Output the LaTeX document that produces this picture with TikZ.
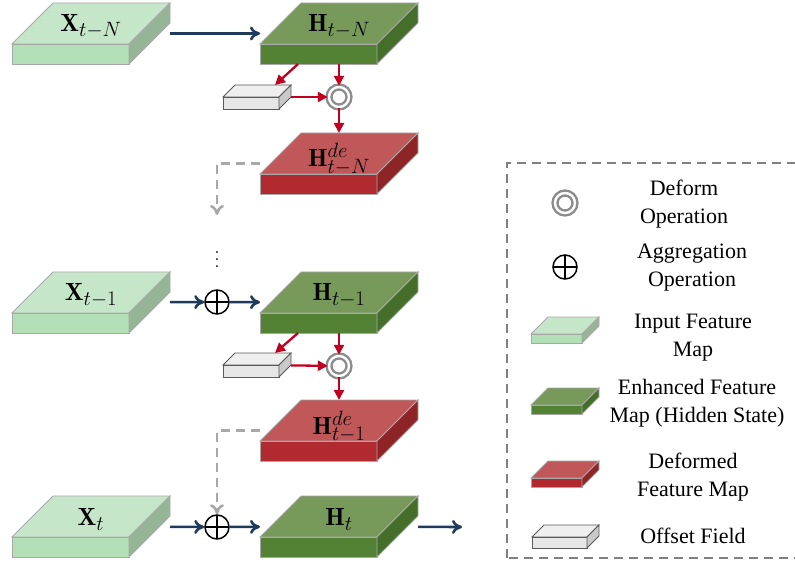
\documentclass[tikz,border=0pt]{standalone}
\usepackage{fontspec}
\newfontfamily\legfont{Liberation Serif}
\usetikzlibrary{arrows.meta}

\definecolor{navy}{HTML}{1F3B5C}
\definecolor{redarr}{HTML}{C00020}
\definecolor{dashgray}{HTML}{A8A8A8}
\definecolor{boxgray}{HTML}{808080}
\definecolor{defgray}{HTML}{8C8C8C}
% input feature map
\definecolor{inptop}{HTML}{C6E6C9}
\definecolor{inpfront}{HTML}{B2DFB5}
\definecolor{inpside}{HTML}{96B596}
\definecolor{inpline}{HTML}{A8A8A8}
% enhanced feature map
\definecolor{enhtop}{HTML}{779A5B}
\definecolor{enhfront}{HTML}{548235}
\definecolor{enhside}{HTML}{446E2A}
\definecolor{enhline}{HTML}{A8A8A8}
% deformed feature map
\definecolor{dfmtop}{HTML}{C05759}
\definecolor{dfmfront}{HTML}{B02A2F}
\definecolor{dfmside}{HTML}{8E2426}
\definecolor{dfmline}{HTML}{A8A8A8}
% offset field
\definecolor{offtop}{HTML}{EFEFEF}
\definecolor{offfront}{HTML}{E6E6E6}
\definecolor{offside}{HTML}{C9C9C9}
\definecolor{offline}{HTML}{5A5A5A}

% slab: name, front bottom-left, width, height, depth, colour set
\newcommand{\featmap}[6]{%
  \filldraw[draw=#6line, fill=#6top, line width=0.8pt] (#2) ++(0,#4) -- ++(#3,0) -- ++(#5,#5) -- ++(-#3,0) -- cycle;
  \filldraw[draw=#6line, fill=#6front, line width=0.8pt] (#2) rectangle ++(#3,#4);
  \filldraw[draw=#6line, fill=#6side, line width=0.8pt] (#2) ++(#3,0) -- ++(#5,#5) -- ++(0,#4) -- ++(-#5,-#5) -- cycle;
  \path (#2) ++({(#3+#5)/2},{(#4+#5)/2}) node[minimum width=#3+#5, minimum height=#4+#5, inner sep=0pt, outer sep=0pt] (#1) {};
}

\begin{document}
\begin{tikzpicture}[
    x=1pt, y=1pt,
    flow/.style={line width=2.6pt, draw=navy, -{Computer Modern Rightarrow[length=10pt,width=14pt]}},
    warp/.style={line width=2.3pt, draw=redarr, -{Triangle[length=10pt,width=10pt]}},
    feed/.style={line width=2.6pt, draw=dashgray, dash pattern=on 9pt off 6pt, -{Computer Modern Rightarrow[length=10pt,width=14pt]}},
    deform/.style={circle, draw=defgray, fill=white, line width=2.4pt, double=white, double distance=2.4pt, minimum size=20pt, inner sep=0pt},
    aggr/.style={circle, draw, fill=white, line width=1.5pt, minimum size=24pt, inner sep=0pt,
        path picture={\draw[line width=1.5pt] (path picture bounding box.north) -- (path picture bounding box.south)
        (path picture bounding box.west) -- (path picture bounding box.east);}},
    maplbl/.style={font=\Huge, inner sep=0pt},
    legtxt/.style={font=\legfont\fontsize{22}{28}\selectfont, align=center, inner sep=0pt},
    legbox/.style={draw=boxgray, line width=1.2pt, dash pattern=on 9pt off 6pt}
]
\useasboundingbox (0,0) rectangle (795,563);

% Step t-N
\featmap{xtN}{12,499}{117}{20}{41}{inp}
\featmap{htN}{260,499}{117}{20}{41}{enh}
\featmap{offN}{223,454}{56}{12}{12}{off}
\featmap{hdeN}{260,369}{117}{20}{41}{dfm}
\node[maplbl] (lxtN) at ([yshift=7pt]xtN.center) {$\mathbf{X}_{t-N}$};
\node[maplbl] (lhtN) at ([yshift=7pt]htN.center) {$\mathbf{H}_{t-N}$};
\node[maplbl] (lhdeN) at ([yshift=4pt]hdeN.center) {$\mathbf{H}^{de}_{t-N}$};
\node[deform] (defN) at (339,466) {};
\coordinate (gapN) at (217,348);

% Step t-1
\node[scale=1.75, transform shape] (dots) at (217,309) {$\vdots$};
\featmap{xt1}{12,230}{117}{20}{41}{inp}
\featmap{ht1}{260,230}{117}{20}{41}{enh}
\featmap{off1}{223,186}{56}{12}{12}{off}
\featmap{hde1}{260,102}{117}{20}{41}{dfm}
\node[maplbl] (lxt1) at ([yshift=7pt]xt1.center) {$\mathbf{X}_{t-1}$};
\node[maplbl] (lht1) at ([yshift=7pt]ht1.center) {$\mathbf{H}_{t-1}$};
\node[maplbl] (lhde1) at ([yshift=4pt]hde1.center) {$\mathbf{H}^{de}_{t-1}$};
\node[aggr] (plus1) at (217,261) {};
\node[deform] (def1) at (339,197) {};

% Step t
\featmap{xt}{12,6}{117}{20}{41}{inp}
\featmap{ht}{260,6}{117}{20}{41}{enh}
\node[maplbl] (lxt) at ([yshift=7pt]xt.center) {$\mathbf{X}_{t}$};
\node[maplbl] (lht) at ([yshift=7pt]ht.center) {$\mathbf{H}_{t}$};
\node[aggr] (plus2) at (217,36) {};
\coordinate (out) at (462,36);

% Connections
\draw[flow] (xtN) -- (htN);
\draw[warp] ([xshift=-41pt]htN.south) -- ([xshift=18pt]offN.north);
\draw[warp] (htN) -- (defN);
\draw[warp] (offN) -- (defN);
\draw[warp] (defN) -- (hdeN);
\draw[feed] (hdeN.west) -| (gapN);
\draw[flow] (xt1) -- (plus1);
\draw[flow] (plus1) -- (ht1);
\draw[warp] ([xshift=-41pt]ht1.south) -- ([xshift=18pt]off1.north);
\draw[warp] (ht1) -- (def1);
\draw[warp] (off1) -- (def1);
\draw[warp] (def1) -- (hde1);
\draw[feed] (hde1.west) -| (plus2);
\draw[flow] (xt) -- (plus2);
\draw[flow] (plus2) -- (ht);
\draw[flow] (ht) -- (out);

% Legend
\draw[legbox] (507,5) rectangle (830,400);
\node[deform] (defL) at (565,360) {};
\node[aggr] (aggL) at (565,296) {};
\featmap{inpL}{531,220}{51}{9}{17}{inp}
\featmap{enhL}{531,149}{51}{9}{17}{enh}
\featmap{dfmL}{531,76}{51}{9}{17}{dfm}
\featmap{offL}{532,15}{55}{11}{12}{off}
\node[legtxt] (tdef) at (684,359) {Deform\\Operation};
\node[legtxt] (tagg) at (692,295) {Aggregation\\Operation};
\node[legtxt] (tinp) at (693,225) {Input Feature\\Map};
\node[legtxt] (tenh) at (697,160) {Enhanced Feature\\Map (Hidden State)};
\node[legtxt] (tdfm) at (693,86) {Deformed\\Feature Map};
\node[legtxt] (toff) at (693,27) {Offset Field};

\end{tikzpicture}
\end{document}
